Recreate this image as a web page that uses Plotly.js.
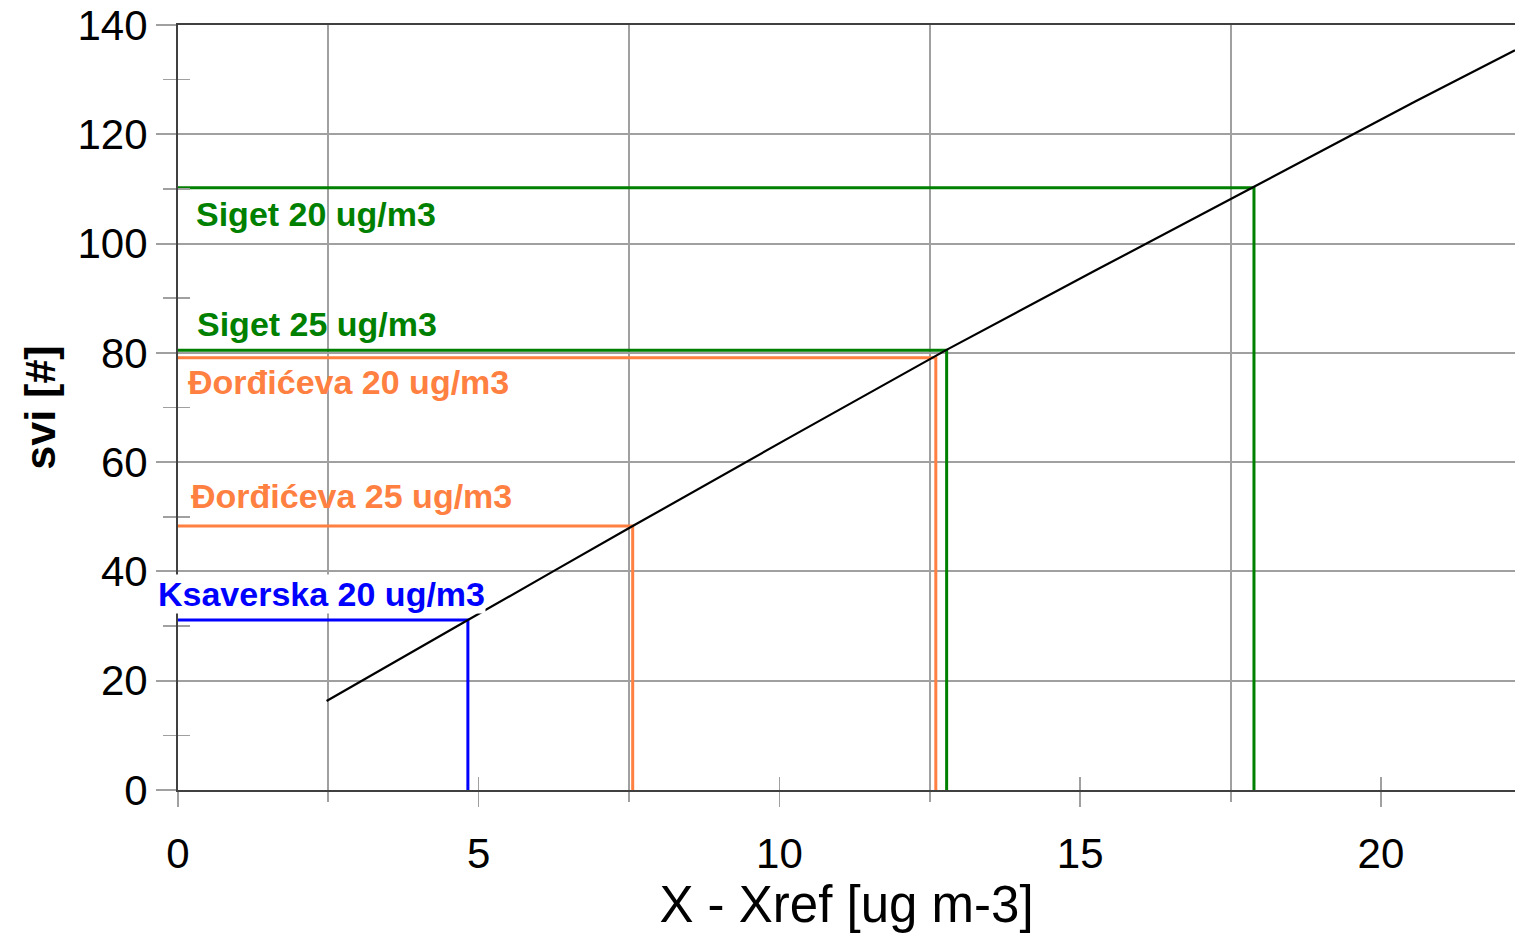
<!DOCTYPE html>
<html><head><meta charset="utf-8">
<script src="https://cdn.plot.ly/plotly-3.0.1.min.js"></script>
<style>html,body{margin:0;padding:0;background:#fff}#chart{width:1515px;height:933px}</style>
</head><body><div id="chart"></div>
<script>
// data
const fitX = [2.47, 4.82, 7.56, 12.77, 17.89, 20.57, 22.23];
const fitY = [16.3, 31.1, 48.3, 80.5, 110.4, 126.0, 135.4];
const sites = ["Ksaverska 20 ug/m3", "Đorđićeva 25 ug/m3", "Đorđićeva 20 ug/m3", "Siget 25 ug/m3", "Siget 20 ug/m3"];
const siteX = [4.82, 7.56, 12.60, 12.78, 17.89];
const siteY = [31.1, 48.3, 79.1, 80.5, 110.2];
const xTicks = [0, 5, 10, 15, 20];
const xGrid = [2.5, 7.5, 12.5, 17.5];
const yTicks = [0, 20, 40, 60, 80, 100, 120, 140];
const yMinor = [10, 30, 50, 70, 90, 110, 130];

// styling (label placement in pixels relative to the y axis)
const siteColors = ["#0000ff", "#ff8040", "#ff8040", "#008000", "#008000"];
const labelShiftX = [-21, 12, 9, 18, 17];
const labelDy = [4.8, 5.5, -4.4, 4.8, -4.8];
const labelBg = ["#ffffff", "rgba(0,0,0,0)", "rgba(0,0,0,0)", "rgba(0,0,0,0)", "rgba(0,0,0,0)"];

const FONT = "Liberation Sans, Arial, sans-serif";
const GRID = "#a0a0a0";
const AXIS = "#404040";
const XR = [0, 22.23], YR = [0, 140];

const traces = [];
sites.forEach((s, i) => {
  traces.push({
    x: [0, siteX[i], siteX[i]], y: [siteY[i], siteY[i], 0],
    mode: "lines", line: {color: siteColors[i], width: 3}, name: s,
    hoverinfo: "skip", cliponaxis: false
  });
});
traces.push({x: fitX, y: fitY, mode: "lines", line: {color: "#000000", width: 2.2, shape: "spline", smoothing: 0.6}, name: "fit", hoverinfo: "skip"});
// invisible trace for overlay axes (crossing tick marks)
traces.push({x: [XR[0]], y: [YR[0]], xaxis: "x2", yaxis: "y2", mode: "markers", marker: {opacity: 0}, hoverinfo: "skip", showlegend: false});

const annotations = sites.map((s, i) => ({
  x: 0, xshift: labelShiftX[i], y: siteY[i] + labelDy[i], xref: "x", yref: "y",
  text: s, showarrow: false, xanchor: "left", yanchor: "middle",
  bgcolor: labelBg[i], borderpad: 0,
  font: {family: FONT, size: 34, color: siteColors[i], weight: "bold"}
}));

const layout = {
  width: 1515, height: 933,
  margin: {l: 178, r: 0, t: 25, b: 143},
  paper_bgcolor: "#ffffff", plot_bgcolor: "#ffffff",
  showlegend: false,
  font: {family: FONT, color: "#000"},
  xaxis: {
    range: XR, tickmode: "array", tickvals: xTicks, ticktext: xTicks.map(String),
    showgrid: false, zeroline: false,
    showline: true, linecolor: AXIS, linewidth: 2, mirror: true,
    ticks: "outside", ticklen: 15, tickwidth: 1.5, tickcolor: GRID,
    ticklabelstandoff: 11,
    tickfont: {family: FONT, size: 42, color: "#000"},
    minor: {tickvals: xGrid, showgrid: true, gridcolor: GRID, gridwidth: 2, ticks: "outside", ticklen: 10, tickcolor: GRID, tickwidth: 2},
    title: {text: "X - Xref [ug m-3]", font: {family: FONT, size: 51, color: "#000"}, standoff: 6}
  },
  yaxis: {
    range: YR, tickmode: "array", tickvals: yTicks, ticktext: yTicks.map(String),
    showgrid: true, gridcolor: GRID, gridwidth: 2, zeroline: false,
    showline: true, linecolor: AXIS, linewidth: 2,
    ticks: "outside", ticklen: 20, tickwidth: 2, tickcolor: GRID,
    ticklabelstandoff: 0,
    tickfont: {family: FONT, size: 42, color: "#000"},
    minor: {tickvals: yMinor, ticks: "outside", ticklen: 13, tickcolor: GRID, tickwidth: 1.5, showgrid: false},
    title: {text: "svi [#]", font: {family: FONT, size: 43, color: "#000", weight: "bold"}, standoff: 8}
  },
  xaxis2: {
    overlaying: "x", anchor: "y2", range: XR, tickmode: "array", tickvals: xTicks,
    showticklabels: false, showgrid: false, zeroline: false, showline: false,
    ticks: "inside", ticklen: 13, tickwidth: 1.5, tickcolor: GRID
  },
  yaxis2: {
    overlaying: "y", anchor: "x2", range: YR, tickmode: "array", tickvals: yMinor,
    showticklabels: false, showgrid: false, zeroline: false, showline: false,
    ticks: "inside", ticklen: 12, tickwidth: 1.5, tickcolor: GRID
  },
  annotations: annotations
};

Plotly.newPlot("chart", traces, layout, {displayModeBar: false, staticPlot: true});
</script>
</body></html>
